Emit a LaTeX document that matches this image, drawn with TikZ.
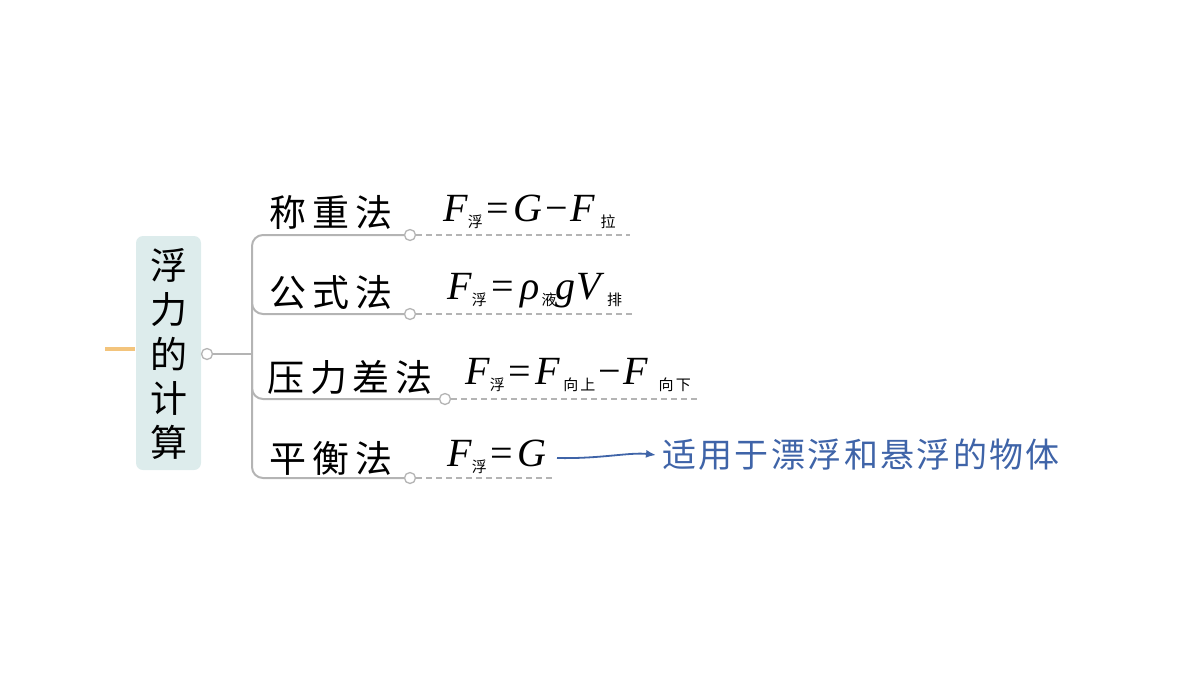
\documentclass[tikz,border=0pt]{standalone}
\usepackage{fontspec}
\usetikzlibrary{arrows.meta}
\setmainfont{Liberation Serif}
\newfontfamily\cjk{Noto Sans CJK SC}
\newfontfamily\cjksp{Noto Sans CJK SC}[LetterSpace=16]
\newfontfamily\cjkblue{Noto Sans CJK SC}[LetterSpace=7]
\newfontfamily\cjksub{Noto Sans CJK SC}[LetterSpace=14]
\newcommand{\sbs}[1]{\raisebox{-0.16em}{\cjksub\fontsize{15}{15}\selectfont #1}}
\newcommand{\fv}{\textit{F}}
\newcommand{\eqs}{\kern4pt=\kern4pt}
\newcommand{\mns}{\kern3pt−\kern3pt}
\definecolor{linegray}{HTML}{B4B4B4}
\definecolor{rootfill}{HTML}{DDECEC}
\definecolor{orangeln}{HTML}{F3C47C}
\definecolor{bluetxt}{HTML}{3F64A8}
\tikzset{
  dot/.style={circle,draw=linegray,fill=white,line width=1.3pt,minimum size=11pt,inner sep=0pt},
  conn/.style={draw=linegray,line width=2pt},
  dashln/.style={draw=linegray,line width=1.8pt,dash pattern=on 6pt off 4pt},
  lab/.style={font=\cjksp\fontsize{37}{40}\selectfont,inner sep=0pt},
  formula/.style={font=\fontsize{40}{40}\selectfont,inner sep=0pt,anchor=base west},
}
\begin{document}
\begin{tikzpicture}[x=1pt,y=-1pt]
\useasboundingbox (0,0) rectangle (1200,675);
% orange stub
\coordinate (o1) at (105,349);
\coordinate (o2) at (135,349);
\draw[orangeln,line width=4pt] (o1) -- (o2);
% root
\node[fill=rootfill,rounded corners=7pt,minimum width=65pt,minimum height=234pt,inner sep=0pt] (root) at (168.5,353) {};
\node[inner sep=0pt,align=center,font=\cjk\fontsize{37}{44.2}\selectfont] (roottxt) at (169,354) {浮\\力\\的\\计\\算};
\node[dot] (rc) at (207,354) {};
\coordinate (hub) at (252,354);
\draw[conn] (rc) -- (hub);
% branch circles
\node[dot] (c1) at (410,235) {};
\node[dot] (c2) at (410,314) {};
\node[dot] (c3) at (445,399) {};
\node[dot] (c4) at (410,478) {};
\draw[conn,rounded corners=11pt] (c1.west) -| (252,360) |- (c4.west);
\draw[conn,rounded corners=11pt] (252,290) |- (c2.west);
\draw[conn,rounded corners=11pt] (252,370) |- (c3.west);
% dashed lines
\coordinate (d1) at (630,235);
\coordinate (d2) at (633,314);
\coordinate (d3) at (698,399);
\coordinate (d4) at (553,478);
\draw[dashln] (c1.east) -- (d1);
\draw[dashln] (c2.east) -- (d2);
\draw[dashln] (c3.east) -- (d3);
\draw[dashln] (c4.east) -- (d4);
% labels
\node[lab] (l1) at (331,212) {称重法};
\node[lab] (l2) at (331,292) {公式法};
\node[lab] (l3) at (350,377) {压力差法};
\node[lab] (l4) at (331,458) {平衡法};
% formulas
\node[formula] (f1) at (443,221) {\fv\sbs{浮}\eqs\textit{G}\mns\fv\kern5pt\sbs{拉}};
\node[formula] (f2) at (447,299) {\fv\sbs{浮}\kern5pt=\kern6pt\textit{ρ}\kern2pt\sbs{液}\kern-1pt\textit{g}\kern1pt\textit{V}\kern2pt\sbs{排}};
\node[formula] (f3) at (465,384) {\fv\sbs{浮}\eqs\fv\kern3pt\sbs{向上}\mns\fv\kern10pt\sbs{向下}};
\node[formula] (f4) at (447,466) {\fv\sbs{浮}\eqs\textit{G}};
% note
\node[inner sep=0pt,font=\cjkblue\fontsize{34}{36}\selectfont,text=bluetxt,anchor=west] (note) at (662,455) {适用于漂浮和悬浮的物体};
\coordinate (a0) at (557,458);
\draw[bluetxt,line width=1.8pt,-{Latex[length=10pt,width=8pt]}] (a0) .. controls (600,459) and (630,452) .. ([xshift=-6pt]note.west);
\end{tikzpicture}
\end{document}
